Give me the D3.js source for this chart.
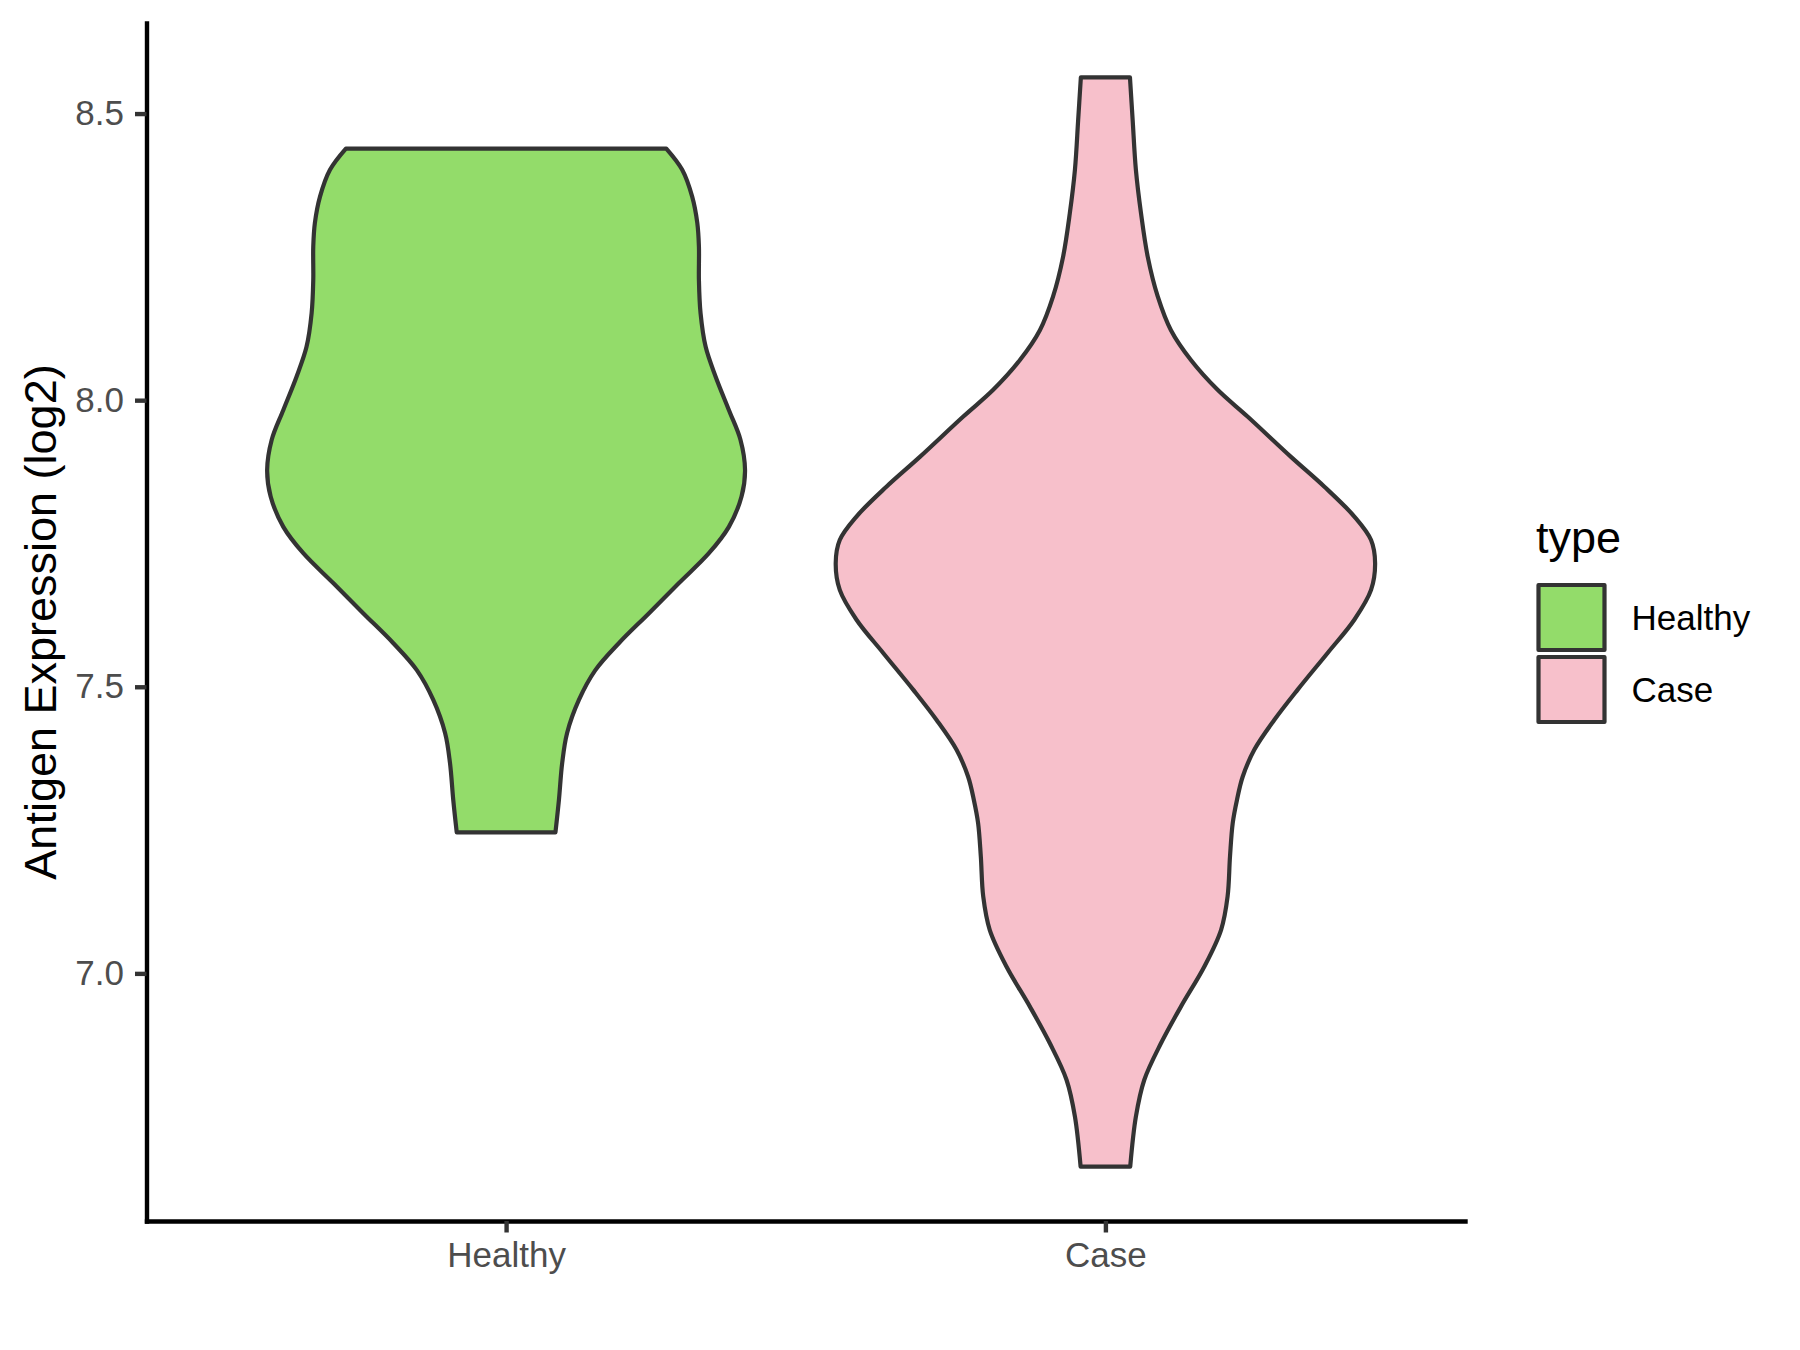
<!DOCTYPE html>
<html><head><meta charset="utf-8">
<script src="https://cdn.jsdelivr.net/npm/d3@7"></script>
<style>
body{margin:0;background:#fff}
svg{display:block}
text{font-family:"Liberation Sans",Arial,Helvetica,sans-serif}
</style>
</head><body>
<svg id="chart" width="1800" height="1350"></svg>
<script>
// ---- data ----
const categories = ["Healthy", "Case"];
const fillColors = ["#93DC6A", "#F7C0CB"];
const yTicks = [7.0, 7.5, 8.0, 8.5];
const yTickLabels = ["7.0", "7.5", "8.0", "8.5"];
const yTitle = "Antigen Expression (log2)";
const legendTitle = "type";

// violin outlines: expression value and relative density (1 = widest violin)
const healthyValues  = [8.439, 8.402, 8.355, 8.309, 8.268, 8.210, 8.152, 8.093, 8.041, 7.983, 7.931, 7.878, 7.832, 7.779, 7.733, 7.681, 7.628, 7.576, 7.529, 7.477, 7.419, 7.367, 7.303, 7.246];
const healthyDensity = [0.594, 0.653, 0.690, 0.709, 0.715, 0.715, 0.721, 0.740, 0.777, 0.826, 0.869, 0.886, 0.873, 0.826, 0.752, 0.641, 0.529, 0.418, 0.331, 0.270, 0.226, 0.208, 0.196, 0.183];
const caseValues  = [8.563, 8.489, 8.402, 8.326, 8.250, 8.181, 8.122, 8.070, 8.018, 7.971, 7.901, 7.849, 7.797, 7.756, 7.716, 7.669, 7.617, 7.559, 7.495, 7.442, 7.390, 7.343, 7.303, 7.262, 7.204, 7.134, 7.076, 7.012, 6.942, 6.878, 6.814, 6.750, 6.663];
const caseDensity = [0.091, 0.101, 0.113, 0.132, 0.157, 0.194, 0.243, 0.317, 0.416, 0.528, 0.688, 0.812, 0.923, 0.985, 1.000, 0.985, 0.923, 0.824, 0.713, 0.626, 0.552, 0.509, 0.488, 0.472, 0.462, 0.453, 0.429, 0.367, 0.280, 0.206, 0.144, 0.113, 0.092];

const yDomain = [6.568, 8.658];

// ---- layout ----
const svg = d3.select("#chart");
const panel = {left: 146.5, right: 1465, top: 23, bottom: 1221};

const x = d3.scalePoint().domain(categories).range([panel.left, panel.right]).padding(0.6);
const y = d3.scaleLinear().domain(yDomain).range([panel.bottom, panel.top]);
const w = d3.scaleLinear().domain([0, 1]).range([0, 0.45 * x.step()]);
const color = d3.scaleOrdinal().domain(categories).range(fillColors);

const violins = [
  {cat: "Healthy", pts: healthyValues.map((v, i) => ({v, d: healthyDensity[i]}))},
  {cat: "Case", pts: caseValues.map((v, i) => ({v, d: caseDensity[i]}))}
];

violins.forEach(vl => {
  const cx = x(vl.cat);
  const area = d3.area()
    .curve(d3.curveCatmullRom.alpha(0.5))
    .y(d => y(d.v))
    .x0(d => cx - w(d.d))
    .x1(d => cx + w(d.d));
  svg.append("path")
    .attr("d", area(vl.pts))
    .attr("fill", color(vl.cat))
    .attr("stroke", "#333333")
    .attr("stroke-width", 4.2)
    .attr("stroke-linejoin", "round");
});

// ---- axes ----
const yAxis = d3.axisLeft(y).tickValues(yTicks)
  .tickFormat((d, i) => yTickLabels[i]).tickSize(11.5).tickSizeOuter(0).tickPadding(11);
const gy = svg.append("g").attr("transform", `translate(${panel.left},0)`).call(yAxis);

const xAxis = d3.axisBottom(x).tickSize(11.5).tickSizeOuter(0).tickPadding(10);
const gx = svg.append("g").attr("transform", `translate(0,${panel.bottom})`).call(xAxis);

[gy, gx].forEach(g => {
  g.select(".domain").attr("stroke", "#000").attr("stroke-width", 4.4).attr("stroke-linecap", "square");
  g.selectAll(".tick line").attr("stroke", "#333333").attr("stroke-width", 4.4);
  g.selectAll(".tick text").attr("fill", "#4D4D4D").style("font-size", "35px")
    .style("font-family", '"Liberation Sans",Arial,sans-serif');
});

// y title
svg.append("text")
  .attr("transform", `translate(56,${(panel.top + panel.bottom) / 2}) rotate(-90)`)
  .attr("text-anchor", "middle")
  .style("font-size", "45px")
  .attr("fill", "#000")
  .text(yTitle);

// ---- legend ----
const lg = svg.append("g");
lg.append("text").attr("x", 1536).attr("y", 553).style("font-size", "45px").attr("fill", "#000").text(legendTitle);
categories.forEach((c, i) => {
  const top = 583 + i * 72;
  lg.append("rect")
    .attr("x", 1538.5).attr("y", top + 2).attr("width", 66).attr("height", 65)
    .attr("fill", color(c)).attr("stroke", "#333333").attr("stroke-width", 4.2)
    .attr("stroke-linejoin", "round");
  lg.append("text")
    .attr("x", 1631.5).attr("y", top + 34.5).attr("dy", "0.35em")
    .style("font-size", "35px").attr("fill", "#000").text(c);
});
</script>
</body></html>
